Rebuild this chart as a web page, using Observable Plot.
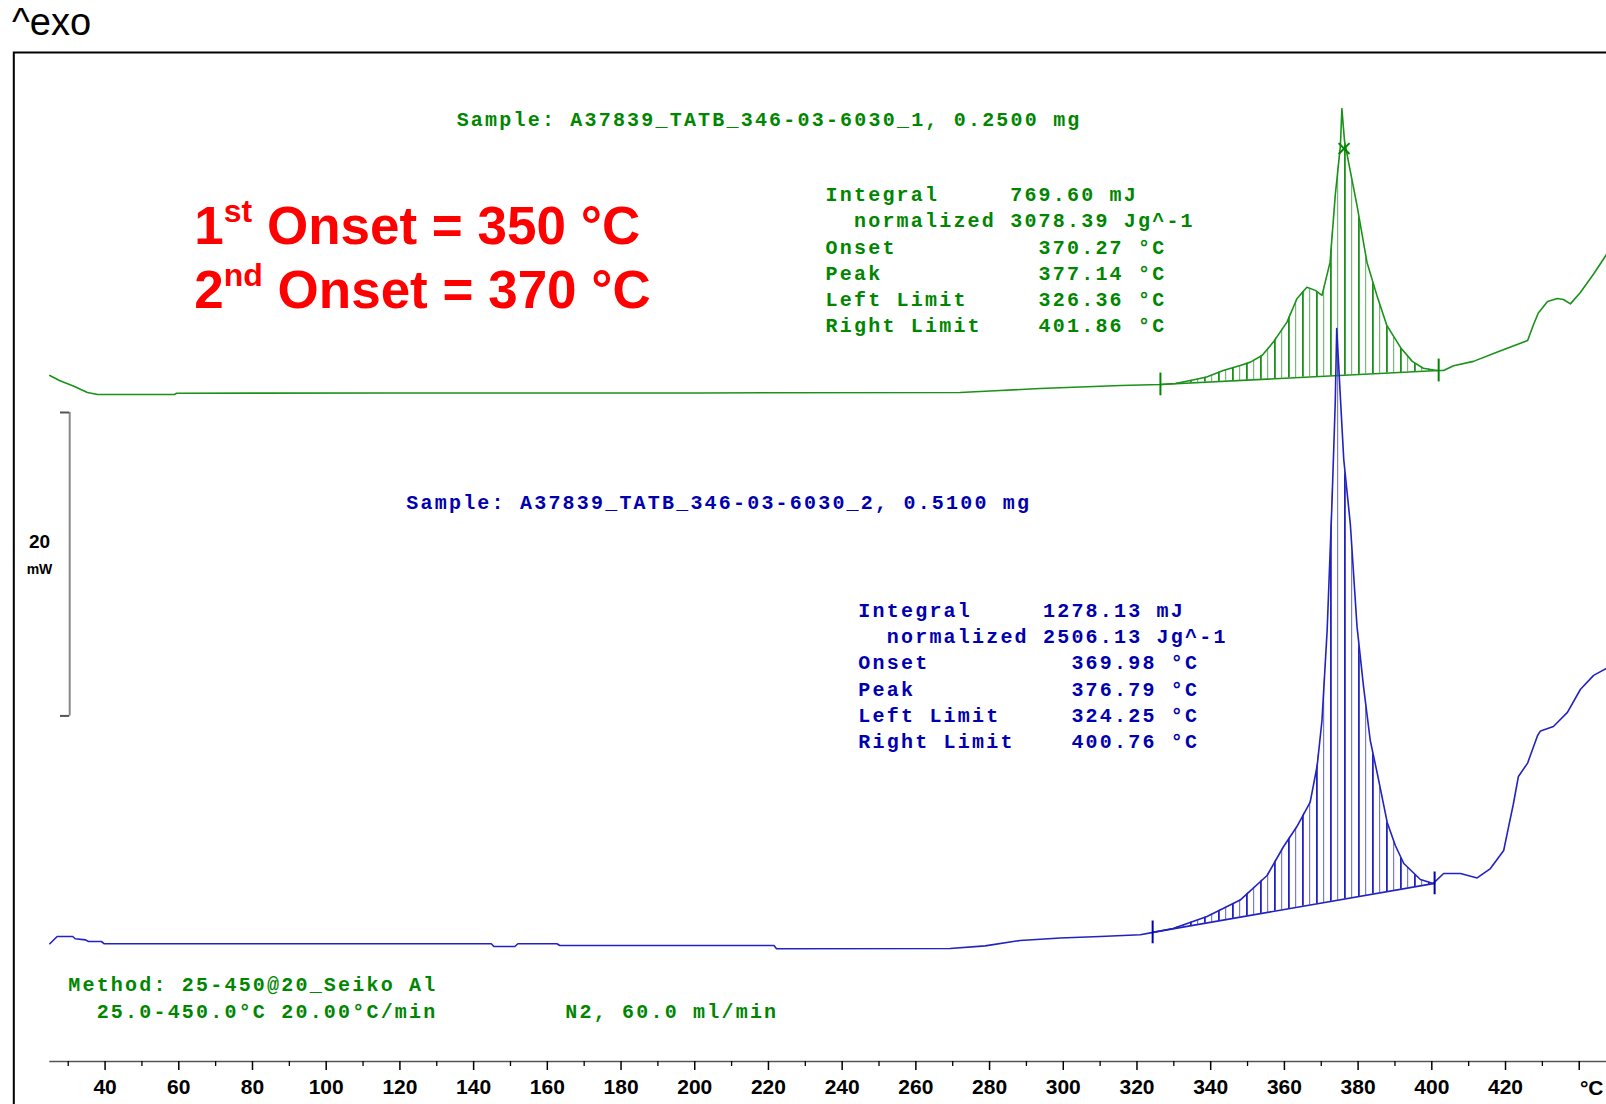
<!DOCTYPE html>
<html><head><meta charset="utf-8">
<script src="https://cdn.jsdelivr.net/npm/d3@7"></script>
<script src="https://cdn.jsdelivr.net/npm/@observablehq/plot@0.6"></script>
<style>
html,body{margin:0;padding:0;background:#fff;overflow:hidden;}
#hdr{height:50px;position:relative;font-family:"Liberation Sans",Arial,sans-serif;font-size:38px;color:#000;}
#hdr span{position:absolute;left:12px;top:3px;line-height:1;}
svg text{white-space:pre;}
g[font-family*="Liberation Mono"] text{letter-spacing:2.2px;}
g[aria-label="x-axis tick label"] text{font-weight:bold;}
</style></head><body>
<div id="hdr"><span>^exo</span></div>
<div id="chart"></div>
<script>
// ---------- data (temperature in °C, heat flow in mW on the plot's common scale) ----------
const sample1T = [25, 27.6, 31.7, 35.2, 38.0, 58.9, 59.4, 120, 201.4, 272, 282.9, 293.7, 304.6, 315.5, 326.4, 330.4, 334.5, 338.9, 343.4, 348.0, 350.8, 354.0, 357.0, 360.7, 363.4, 366.1, 368.4, 370.2, 372.4, 373.8, 375.2, 375.6, 376.3, 377.4, 379.7, 382.4, 385.1, 387.8, 391.5, 394.7, 397.7, 401.3, 403.2, 405.9, 411.3, 417.8, 426.0, 427.6, 428.9, 431.4, 434.1, 435.7, 437.6, 440.3, 443.9, 447.4];
const sample1mW = [37.44, 37.11, 36.72, 36.32, 36.19, 36.19, 36.27, 36.29, 36.29, 36.32, 36.45, 36.58, 36.68, 36.78, 36.85, 36.91, 37.11, 37.34, 37.77, 38.10, 38.32, 38.77, 39.64, 40.96, 42.50, 43.26, 43.05, 42.72, 44.91, 49.31, 52.60, 55.04, 52.93, 51.50, 48.65, 44.91, 42.72, 40.74, 39.29, 38.37, 37.92, 37.77, 37.77, 38.08, 38.37, 38.98, 39.75, 40.80, 41.56, 42.32, 42.52, 42.45, 42.16, 42.91, 44.13, 45.42];

const sample2T = [25, 27.0, 31.2, 31.9, 34.7, 35.5, 39.0, 39.8, 144.8, 145.5, 151.2, 152.0, 162.6, 163.4, 221.5, 222.2, 269.3, 278.8, 288.3, 299.2, 310.0, 320.9, 324.4, 329.8, 339.0, 348.0, 355.3, 359.7, 363.4, 367.0, 368.9, 370.2, 371.6, 372.9, 373.8, 374.2, 375.2, 376.1, 377.9, 379.7, 381.5, 383.3, 385.2, 387.9, 390.1, 392.4, 396.9, 400.4, 403.2, 407.8, 412.3, 415.9, 419.5, 420.8, 422.1, 423.5, 426.0, 428.7, 429.5, 433.0, 436.8, 440.3, 443.9, 447.4];
const sample2mW = [-0.02, 0.46, 0.46, 0.31, 0.24, 0.13, 0.13, -0.02, -0.02, -0.20, -0.20, -0.02, -0.02, -0.13, -0.13, -0.35, -0.33, -0.16, 0.20, 0.36, 0.46, 0.57, 0.73, 0.99, 1.78, 2.86, 4.48, 6.36, 7.71, 9.32, 11.73, 14.70, 20.63, 28.96, 35.69, 40.54, 35.95, 31.92, 27.62, 20.90, 16.88, 13.38, 11.21, 7.98, 6.46, 5.27, 4.22, 3.96, 4.61, 4.61, 4.32, 4.94, 6.13, 7.65, 9.16, 11.01, 11.89, 13.71, 14.01, 14.30, 15.23, 16.74, 17.67, 18.13];

// integration limits (°C) and baseline heat flow at the limits (mW)
const sample1Limits = [326.36, 401.86];
const sample1LimitMW = [36.85, 37.77];
const sample2Limits = [324.25, 400.76];
const sample2LimitMW = [0.73, 3.96];
const sample1Peak = [376.2, 52.4];

// text
const sample1Title = "Sample: A37839_TATB_346-03-6030_1, 0.2500 mg";
const sample2Title = "Sample: A37839_TATB_346-03-6030_2, 0.5100 mg";
const sample1Stats = ["Integral     769.60 mJ", "  normalized 3078.39 Jg^-1", "Onset          370.27 °C", "Peak           377.14 °C", "Left Limit     326.36 °C", "Right Limit    401.86 °C"];
const sample2Stats = ["Integral     1278.13 mJ", "  normalized 2506.13 Jg^-1", "Onset          369.98 °C", "Peak           376.79 °C", "Left Limit     324.25 °C", "Right Limit    400.76 °C"];
const methodLines = ["Method: 25-450@20_Seiko Al", "  25.0-450.0°C 20.00°C/min         N2, 60.0 ml/min"];
const onsetNotes = ["1st Onset = 350 °C", "2nd Onset = 370 °C"];
const majorTicks = d3.range(40, 441, 20);
const minorTicks = d3.range(30, 440, 20);
const scaleBarMW = [15, 35];
const scaleBarLabel = ["20", "mW"];
const xUnit = "°C";

// ---------- styles ----------
const GREEN = "#008600", GREEN_LINE = "#1a921a";
const BLUE = "#0000b0", BLUE_LINE = "#2222c2";
const MONO = "'Liberation Mono', 'DejaVu Sans Mono', monospace";
const SANS = "'Liberation Sans', Arial, sans-serif";

const s1 = sample1T.map((T, i) => ({T, v: sample1mW[i]}));
const s2 = sample2T.map((T, i) => ({T, v: sample2mW[i]}));

function hatchRows(rows, lim, limV) {
  const base = T => limV[0] + (limV[1] - limV[0]) * (T - lim[0]) / (lim[1] - lim[0]);
  const inner = rows.filter(d => d.T > lim[0] && d.T < lim[1]).map(d => ({T: d.T, v: d.v, base: base(d.T)}));
  return [{T: lim[0], v: limV[0], base: limV[0]}, ...inner, {T: lim[1], v: limV[1], base: limV[1]}];
}
const h1 = hatchRows(s1, sample1Limits, sample1LimitMW);
const h2 = hatchRows(s2, sample2Limits, sample2LimitMW);
const b1 = sample1Limits.map((T, i) => ({T, v: sample1LimitMW[i]}));
const b2 = sample2Limits.map((T, i) => ({T, v: sample2LimitMW[i]}));

const xDomain = [25, 447.4];
const yDomain = [-7.78, 58.73];

const monoText = (text, T, v, fill, extra = {}) =>
  Plot.text([text], {x: () => T, y: () => v, text: d => d, textAnchor: "start", lineAnchor: "middle",
    fontFamily: MONO, fontWeight: "bold", fontSize: 20, fill, ...extra});

const svg = Plot.plot({
  width: 1606,
  height: 1054,
  marginLeft: 49.3,
  marginRight: 0,
  marginTop: 2,
  marginBottom: 43,
  x: {domain: xDomain},
  y: {domain: yDomain, axis: null},
  style: {overflow: "hidden", background: "#fff", fontFamily: SANS},
  marks: [
    Plot.frame({stroke: "#000", strokeWidth: 2, insetLeft: -36, insetRight: -40, insetBottom: -60}),
    // x axis
    Plot.ruleY([yDomain[0]], {stroke: "#555", strokeWidth: 1.6}),
    Plot.axisX({ticks: minorTicks, tickSize: 5, tickFormat: () => "", label: null, stroke: "#000", strokeWidth: 1.3}),
    Plot.axisX({ticks: majorTicks, tickSize: 9, tickPadding: 9, tickFormat: d => d === 440 ? "" : String(d), label: null,
      fontSize: 21, fontWeight: "bold", stroke: "#000", strokeWidth: 1.5}),
    Plot.text([xUnit], {x: () => xDomain[1], frameAnchor: "bottom", dy: 27, dx: -3, text: d => d, textAnchor: "end",
      lineAnchor: "middle", fontSize: 21, fontWeight: "bold"}),
    // 20 mW scale bar
    Plot.ruleX([30.4], {y1: scaleBarMW[0], y2: scaleBarMW[1], stroke: "#8a8a8a", strokeWidth: 2}),
    Plot.ruleY(scaleBarMW, {x1: 27.9, x2: 30.4, stroke: "#555", strokeWidth: 2}),
    Plot.text([scaleBarLabel[0]], {x: () => 22.2, y: () => 26.5, text: d => d, fontSize: 19, fontWeight: "bold", lineAnchor: "middle"}),
    Plot.text([scaleBarLabel[1]], {x: () => 22.2, y: () => 24.65, text: d => d, fontSize: 14, fontWeight: "bold", lineAnchor: "middle"}),
    // hatched integration areas
    Plot.areaY(h1, {x: "T", y1: "base", y2: "v", fill: "url(#hatchG)"}),
    Plot.areaY(h2, {x: "T", y1: "base", y2: "v", fill: "url(#hatchB)"}),
    Plot.line(b1, {x: "T", y: "v", stroke: GREEN_LINE, strokeWidth: 1.6}),
    Plot.line(b2, {x: "T", y: "v", stroke: BLUE_LINE, strokeWidth: 1.6}),
    // curves
    Plot.line(s1, {x: "T", y: "v", stroke: GREEN_LINE, strokeWidth: 1.6}),
    Plot.line(s2, {x: "T", y: "v", stroke: BLUE_LINE, strokeWidth: 1.6}),
    // limit markers
    Plot.ruleX(b1, {x: "T", y1: d => d.v - 0.75, y2: d => d.v + 0.75, stroke: GREEN, strokeWidth: 2}),
    Plot.ruleX(b2, {x: "T", y1: d => d.v - 0.75, y2: d => d.v + 0.75, stroke: BLUE, strokeWidth: 2}),
    Plot.dot([sample1Peak], {x: d => d[0], y: d => d[1], symbol: "times", r: 5, stroke: GREEN, strokeWidth: 2}),
    // annotations
    monoText(sample1Title, 135.4, 54.33, GREEN),
    monoText(sample1Stats.join("\n"), 235.5, 45.16, GREEN, {lineHeight: 1.31}),
    monoText(sample2Title, 121.75, 29.08, BLUE),
    monoText(sample2Stats.join("\n"), 244.4, 17.75, BLUE, {lineHeight: 1.31}),
    monoText(methodLines.join("\n"), 30.0, -3.45, GREEN, {lineHeight: 1.335}),
    Plot.text([onsetNotes[0]], {x: () => 64.2, y: () => 46.09, text: d => d, textAnchor: "start", lineAnchor: "bottom",
      fontFamily: SANS, fontWeight: "bold", fontSize: 53, fill: "#ff0000"}),
    Plot.text([onsetNotes[1]], {x: () => 64.2, y: () => 41.92, text: d => d, textAnchor: "start", lineAnchor: "bottom",
      fontFamily: SANS, fontWeight: "bold", fontSize: 53, fill: "#ff0000"})
  ]
});

// hatch patterns
const defs = d3.select(svg).insert("defs", ":first-child");
function addHatch(id, color) {
  const p = defs.append("pattern").attr("id", id).attr("patternUnits", "userSpaceOnUse").attr("width", 14).attr("height", 10);
  p.append("rect").attr("x", 0).attr("y", 0).attr("width", 1.8).attr("height", 10).attr("fill", color);
  p.append("rect").attr("x", 7).attr("y", 0).attr("width", 1.2).attr("height", 10).attr("fill", color).attr("opacity", 0.6);
}
addHatch("hatchG", GREEN_LINE);
addHatch("hatchB", BLUE_LINE);

// superscript ordinals in the red notes
d3.select(svg).selectAll("text").each(function () {
  if (this.querySelector("tspan")) return;
  const m = /^(\d)(st|nd|rd|th)( .*)$/.exec(this.textContent);
  if (!m) return;
  const sel = d3.select(this);
  sel.text(null);
  sel.append("tspan").text(m[1]);
  sel.append("tspan").attr("font-size", 32).attr("dy", -22).text(m[2]);
  sel.append("tspan").attr("dy", 22).text(m[3]);
});

document.getElementById("chart").appendChild(svg);
</script>
</body></html>
